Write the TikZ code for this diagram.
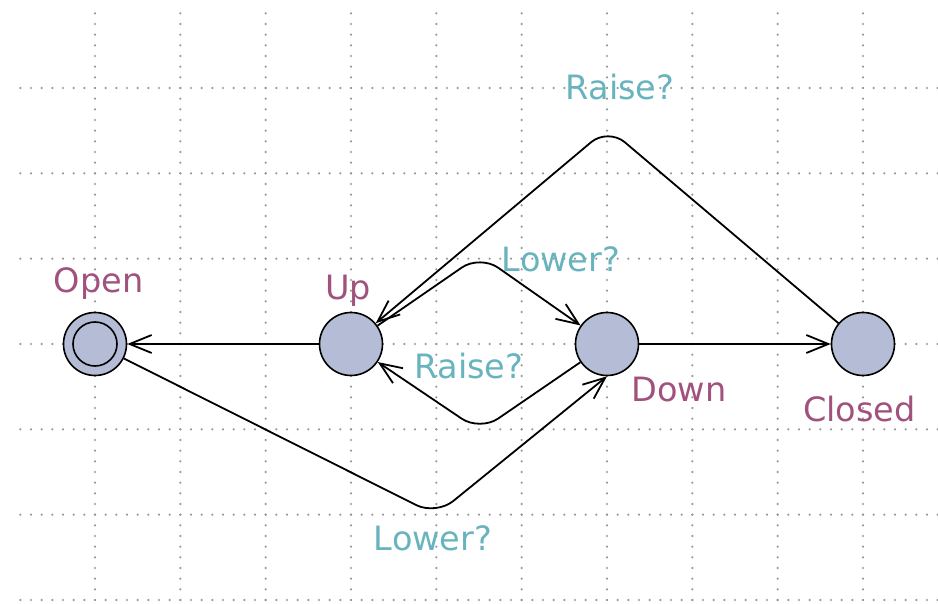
\documentclass[tikz,border=0pt]{standalone}
\usepackage{fontspec}
\setmainfont{DejaVu Sans}
\usetikzlibrary{arrows.meta}
\definecolor{locfill}{RGB}{180,188,214}
\definecolor{locname}{RGB}{160,82,125}
\definecolor{synccol}{RGB}{104,180,190}
\definecolor{gridc}{RGB}{150,150,150}
\tikzset{
  griddot/.style={gridc, line width=2.4pt, line cap=round, dash pattern=on 0pt off 10.6667pt},
  loc/.style={circle, draw=black, fill=locfill, line width=1.6pt, minimum size=63pt, inner sep=0pt},
  locin/.style={circle, draw=black, line width=1.6pt, minimum size=44pt, inner sep=0pt},
  locname/.style={text=locname, anchor=base, font=\fontsize{33.5}{40}\selectfont, inner sep=0pt},
  synclabel/.style={text=synccol, anchor=base, font=\fontsize{33.5}{40}\selectfont, inner sep=0pt},
  edge/.style={draw=black, line width=1.8pt, rounded corners=22pt, -{Straight Barb[length=22pt,width=18pt]}}
}
\begin{document}
\begin{tikzpicture}[x=1pt,y=-1pt]
\useasboundingbox (0,0) rectangle (938,604);
% grid
\foreach \i in {0,...,9} {
  \draw[griddot] (95+\i*85.3333,13.333) -- (95+\i*85.3333,600.1);
}
\foreach \j in {-3,...,3} {
  \draw[griddot] (20.333,344+\j*85.3333) -- (938,344+\j*85.3333);
}
% locations
\node[loc] (open) at (95,344) {};
\node[locin] (openin) at (95,344) {};
\node[loc] (up) at (351,344) {};
\node[loc] (down) at (607,344) {};
\node[loc] (closed) at (863,344) {};
% location names
\node[locname] (nopen) at (98.5,293) {Open};
\node[locname] (nup) at (348,300) {Up};
\node[locname] (ndown) at (679,401) {Down};
\node[locname] (nclosed) at (859.5,421) {Closed};
% edges
\draw[edge] (up) -- (open);
\draw[edge] (down) -- (closed);
\draw[edge] (closed) -- (608,128) -- (up);
\draw[edge] (up) -- (480,255) -- (down);
\draw[edge] (down) -- (480,431) -- (up);
\draw[edge] (open) -- (436,515) -- (down.south);
% synchronisation labels
\node[synclabel] (s1) at (620,100) {Raise?};
\node[synclabel] (s2) at (561,272) {Lower?};
\node[synclabel] (s3) at (469,378) {Raise?};
\node[synclabel] (s4) at (433,550) {Lower?};
\end{tikzpicture}
\end{document}
